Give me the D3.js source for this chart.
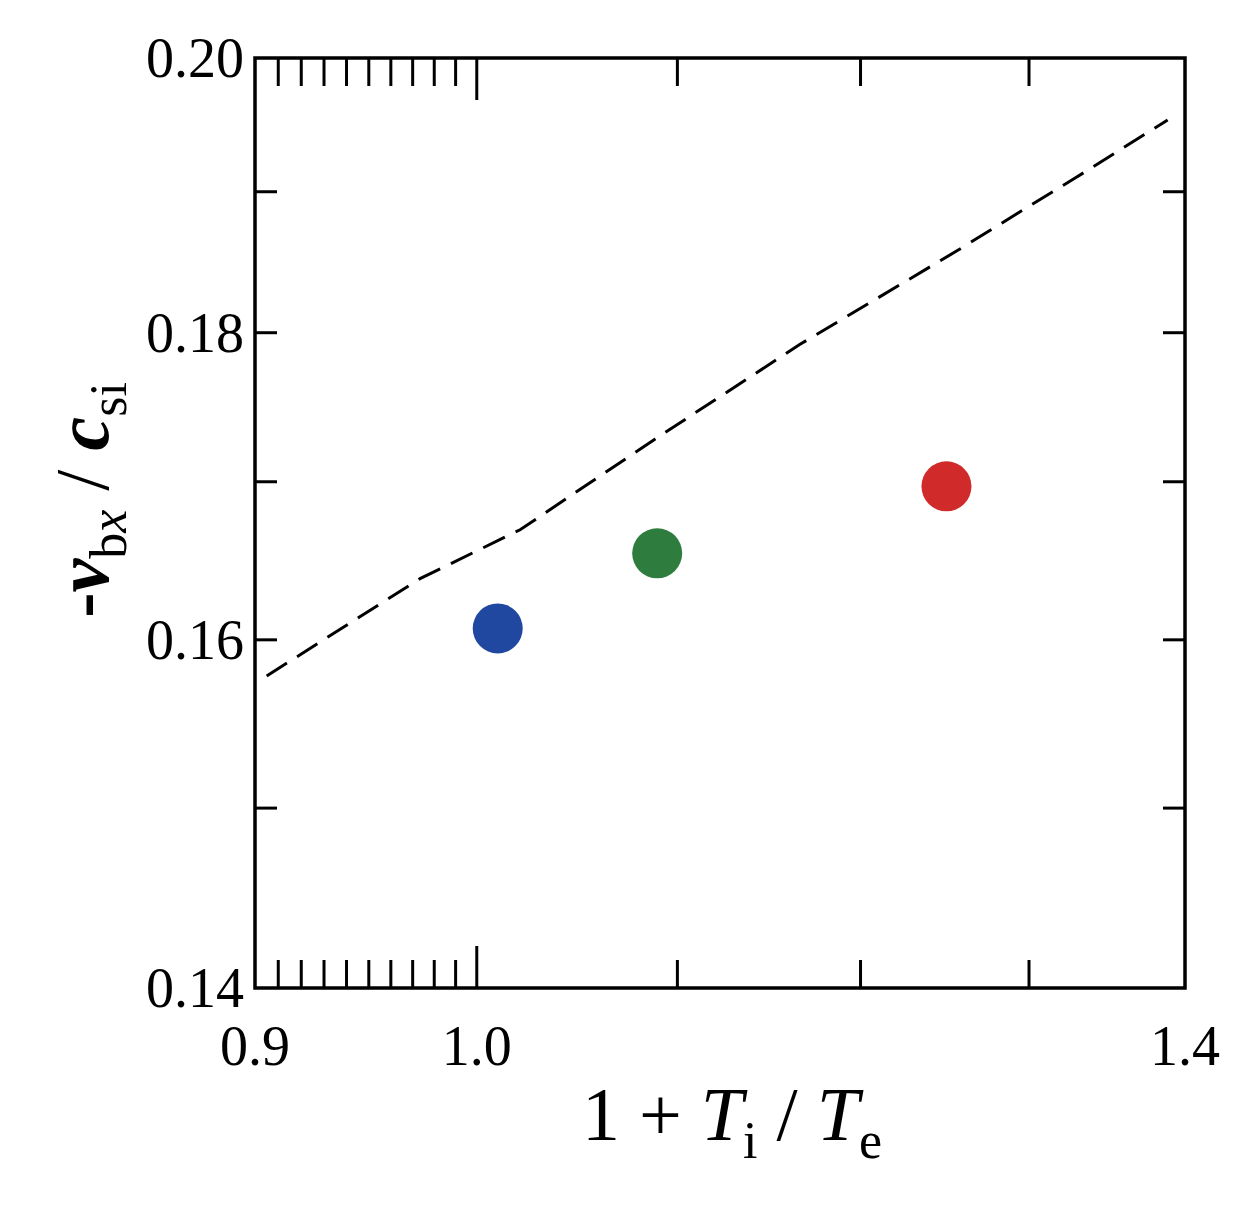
<!DOCTYPE html>
<html><head><meta charset="utf-8">
<script src="https://cdn.jsdelivr.net/npm/d3@7"></script>
<style>body{margin:0;background:#fff}text{font-family:"Liberation Serif","DejaVu Serif",serif}</style>
</head><body><svg width="1251" height="1208"></svg>
<script>
// data
var pointsX = [1.010, 1.0895, 1.250];
var pointsY = [0.1607, 0.1654, 0.1697];
var pointColors = ["#2148a0", "#2e7d3e", "#d02a2a"];
var lineX = [0.905, 0.9734, 1.0208, 1.0883, 1.166, 1.257, 1.3007, 1.3288, 1.3885];
var lineY = [0.1578, 0.1638, 0.1669, 0.1728, 0.1792, 0.1858, 0.1890, 0.1910, 0.1953];
var xMajor = [0.9, 1.0, 1.4], xMid = [1.1, 1.2, 1.3];
var xMinor = [0.91,0.92,0.93,0.94,0.95,0.96,0.97,0.98,0.99];
var yLabels = [0.14, 0.16, 0.18, 0.20];
var yTicks = [0.15, 0.16, 0.17, 0.18, 0.19];

var svg = d3.select("svg");
var L = 255, R = 1185, T = 58, B = 988;
var x = d3.scaleLog().domain([0.9, 1.4]).range([L, R]);
var y = d3.scaleLog().domain([0.14, 0.20]).range([B, T]);

svg.append("rect").attr("x", L).attr("y", T).attr("width", R-L).attr("height", B-T)
	.attr("fill", "none").attr("stroke", "#000").attr("stroke-width", 3.5);

function vtick(xv, len){
	svg.append("line").attr("x1", x(xv)).attr("x2", x(xv)).attr("y1", B).attr("y2", B-len).attr("stroke","#000").attr("stroke-width",3);
	svg.append("line").attr("x1", x(xv)).attr("x2", x(xv)).attr("y1", T).attr("y2", T+len).attr("stroke","#000").attr("stroke-width",3);
}
xMinor.forEach(function(d){ vtick(d, 28) });
vtick(1.0, 42);
xMid.forEach(function(d){ vtick(d, 28) });

yTicks.forEach(function(d){
	svg.append("line").attr("x1", L).attr("x2", L+22).attr("y1", y(d)).attr("y2", y(d)).attr("stroke","#000").attr("stroke-width",3);
	svg.append("line").attr("x1", R).attr("x2", R-22).attr("y1", y(d)).attr("y2", y(d)).attr("stroke","#000").attr("stroke-width",3);
});

svg.selectAll(".xl").data(xMajor).enter().append("text")
	.attr("x", function(d){ return x(d) }).attr("y", 1065)
	.attr("text-anchor", "middle").attr("font-size", 56)
	.text(function(d){ return d.toFixed(1) });
svg.selectAll(".yl").data(yLabels).enter().append("text")
	.attr("x", 244).attr("y", function(d){ return y(d) + 19 })
	.attr("text-anchor", "end").attr("font-size", 56)
	.text(function(d){ return d.toFixed(2) });

var line = d3.line().x(function(d){ return x(d[0]) }).y(function(d){ return y(d[1]) });
svg.append("path").datum(d3.zip(lineX, lineY)).attr("d", line)
	.attr("fill", "none").attr("stroke", "#000").attr("stroke-width", 3).attr("stroke-dasharray", "24,12");

svg.selectAll(".pt").data(d3.zip(pointsX, pointsY)).enter().append("circle")
	.attr("cx", function(d){ return x(d[0]) }).attr("cy", function(d){ return y(d[1]) })
	.attr("r", 25).attr("fill", function(d, i){ return pointColors[i] });

var xl = svg.append("text").attr("x", 732).attr("y", 1140).attr("text-anchor", "middle").attr("font-size", 76);
xl.append("tspan").text("1 + ");
xl.append("tspan").attr("font-style", "italic").text("T");
xl.append("tspan").attr("font-size", 52).attr("dy", 18).text("i");
xl.append("tspan").attr("dy", -18).text(" / ");
xl.append("tspan").attr("font-style", "italic").text("T");
xl.append("tspan").attr("font-size", 52).attr("dy", 18).text("e");

var yl = svg.append("text").attr("transform", "translate(108,500) rotate(-90)")
	.attr("text-anchor", "middle").attr("font-size", 76);
yl.append("tspan").attr("font-weight", "bold").text("-");
yl.append("tspan").attr("font-style", "italic").attr("font-weight", "bold").text("v");
yl.append("tspan").attr("font-size", 52).attr("dy", 18).text("b");
yl.append("tspan").attr("font-size", 52).attr("font-style", "italic").text("x");
yl.append("tspan").attr("dy", -18).text(" / ");
yl.append("tspan").attr("font-style", "italic").attr("font-weight", "bold").text("c");
yl.append("tspan").attr("font-size", 52).attr("dy", 18).text("si");
</script></body></html>
